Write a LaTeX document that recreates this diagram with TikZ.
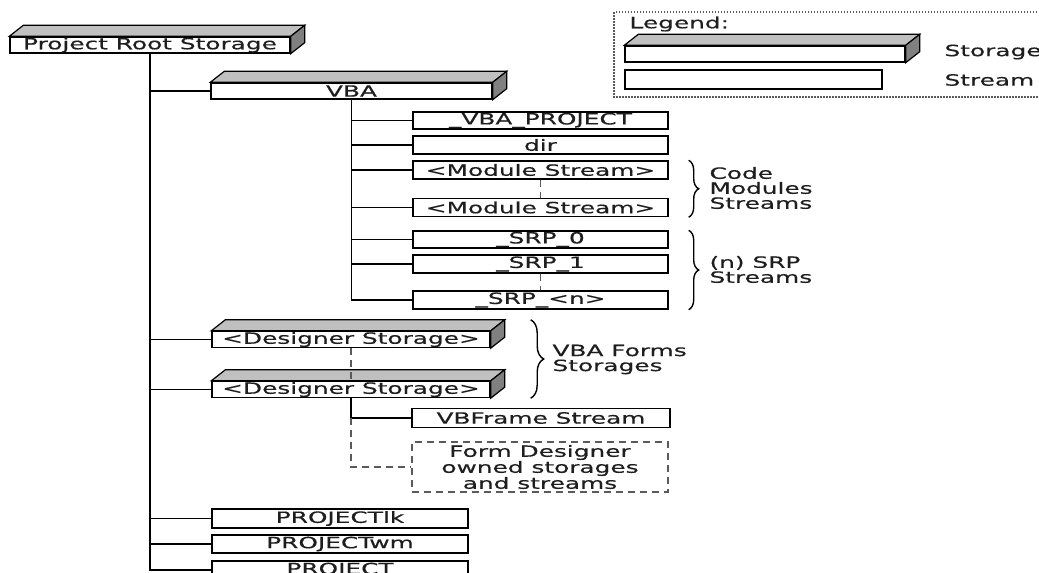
\documentclass[tikz,border=0pt]{standalone}
\usepackage{fontspec}
\setmainfont{DejaVu Sans}[FakeStretch=1.6,FakeBold=0.4]
\usetikzlibrary{decorations.pathreplacing}
\definecolor{topg}{HTML}{C0C0C0}
\definecolor{sideg}{HTML}{808080}
\definecolor{dashg}{HTML}{5A5A5A}
\definecolor{txt}{HTML}{1E1E1E}
\newcommand\slab[1]{%
  \filldraw[line width=1.2pt,fill=topg] (#1.north west) -- ++(14,-11) -- ([shift={(14,-11)}]#1.north east) -- (#1.north east) -- cycle;
  \filldraw[line width=1.2pt,fill=sideg] (#1.north east) -- ++(14,-11) -- ([shift={(14,-11)}]#1.south east) -- (#1.south east) -- cycle;}
\tikzset{
  lbl/.style={text=txt,font=\fontsize{15.5}{15}\selectfont},
  boxbase/.style={lbl,draw,line width=1.4pt,fill=white,inner sep=0pt,minimum height=18pt},
  stream/.style={boxbase,minimum width=255pt},
  storage/.style={boxbase,minimum height=16pt},
  dashline/.style={draw=dashg,line width=1.4pt,dash pattern=on 7pt off 5pt},
  dashbox/.style={lbl,draw=dashg,line width=1.4pt,dash pattern=on 7pt off 5pt,inner sep=0pt,align=center,font=\fontsize{15.5}{16}\selectfont},
  conn/.style={line width=1.4pt},
  bracestyle/.style={line width=1.4pt,decorate,decoration={brace,amplitude=#1}},
  bracetext/.style={lbl,anchor=west,align=left},
}
\begin{document}
\begin{tikzpicture}[x=1pt,y=-1pt]
\useasboundingbox (0,0) rectangle (1039,573);
\clip (0,0) rectangle (1039,573);

% legend
\draw[draw=dashg,line width=1.2pt,dash pattern=on 1.5pt off 1.5pt] (614,12) rectangle (1060,97);
\node[lbl,anchor=west] (legtitle) at (626,24) {Legend:};
\node[storage,minimum width=280pt] (legstor) at (765,54) {};
\slab{legstor}
\node[boxbase,minimum width=257pt,minimum height=19pt] (legstream) at (753.5,79.5) {};
\node[lbl,anchor=west] (legstortxt) at (941,52) {Storage};
\node[lbl,anchor=west] (legstreamtxt) at (941,80) {Stream};

% nodes
\node[storage,minimum width=280pt] (root) at (150,45) {Project Root Storage};
\node[storage,minimum width=281pt] (vba) at (351.5,91) {VBA};
\node[stream,minimum height=17pt] (vbap) at (540.5,120.5) {\_VBA\_PROJECT};
\node[stream] (dir) at (540.5,145) {dir};
\node[stream] (mod1) at (540.5,170) {<Module Stream>};
\node[stream] (mod2) at (540.5,207.5) {<Module Stream>};
\node[stream,minimum height=17pt] (srp0) at (540.5,239.5) {\_SRP\_0};
\node[stream] (srp1) at (540.5,264) {\_SRP\_1};
\node[stream] (srpn) at (540.5,300) {\_SRP\_<n>};
\node[storage,minimum width=278pt] (ds1) at (351,339.5) {<Designer Storage>};
\node[storage,minimum width=278pt] (ds2) at (351,389.5) {<Designer Storage>};
\node[stream,minimum width=258pt,minimum height=19pt] (vbframe) at (541,418) {VBFrame Stream};
\node[dashbox,minimum width=256pt,minimum height=50pt] (fdo) at (540,467) {Form Designer\\owned storages\\and streams};
\node[stream,minimum width=256pt,minimum height=19pt] (lk) at (340,518.5) {PROJECTlk};
\node[stream,minimum width=256pt] (wm) at (340,544) {PROJECTwm};
\node[stream,minimum width=256pt] (proj) at (340,570) {PROJECT};

\slab{root}
\slab{vba}
\slab{ds1}
\slab{ds2}

% root trunk
\draw[conn] (root.south) -- (root.south |- proj.west) -- (proj.west);
\foreach \n in {vba,ds1,ds2,lk,wm}
  \draw[conn] (root.south |- \n.west) -- (\n.west);

% VBA trunk
\draw[conn] (vba.south) -- (vba.south |- srpn.west) -- (srpn.west);
\foreach \n in {vbap,dir,mod1,mod2,srp0,srp1}
  \draw[conn] (vba.south |- \n.west) -- (\n.west);

% dashed continuations
\draw[dashline] (mod1.south) -- (mod2.north);
\draw[dashline] (srp1.south) -- (srpn.north);
\draw[dashline] (ds1.south) -- (ds2.north);

% designer storage children
\draw[conn] (ds2.south) -- (ds2.south |- vbframe.west) -- (vbframe.west);
\draw[dashline] (ds2.south |- vbframe.west) |- (fdo.west);

% braces
\draw[bracestyle=10pt] ([xshift=20pt]mod1.north east) -- ([xshift=20pt]mod2.south east);
\node[bracetext] (codetxt) at (706,188) {Code\\Modules\\Streams};
\draw[bracestyle=10pt] ([xshift=20pt]srp0.north east) -- ([xshift=20pt]srpn.south east);
\node[bracetext] (srptxt) at (706,269.5) {(n) SRP\\Streams};
\draw[bracestyle=13pt] ([xshift=40pt,yshift=11pt]ds1.north east) -- ([xshift=40pt]ds2.south east);
\node[bracetext] (formstxt) at (549,359.5) {VBA Forms\\Storages};
\end{tikzpicture}
\end{document}
